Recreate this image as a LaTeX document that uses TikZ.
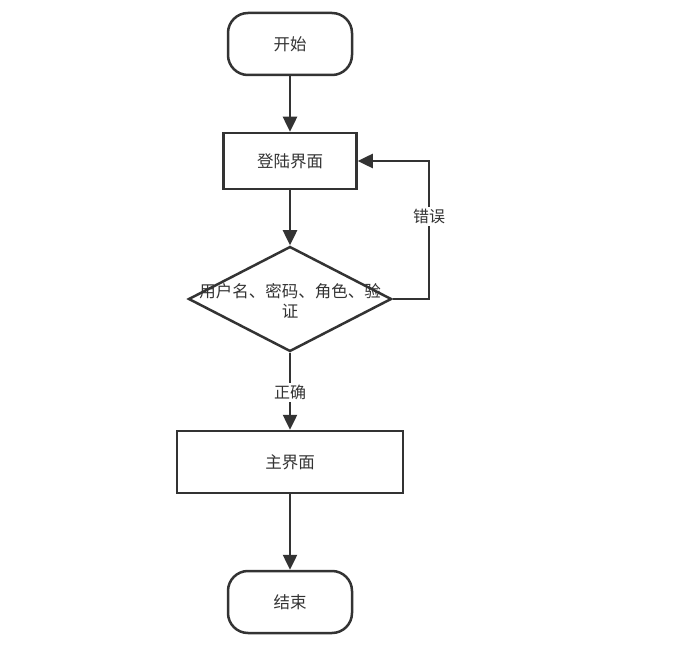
\documentclass[tikz,border=0pt]{standalone}
\usepackage{fontspec}
\setmainfont{Noto Sans CJK SC}
\usepackage{tikz}
\usetikzlibrary{arrows.meta,shapes,positioning}
\usepackage{xcolor}
\definecolor{fcgray}{RGB}{51,51,51}
\tikzstyle{terminal} = [rectangle, rounded corners=20pt, minimum width=124pt, minimum height=62pt, text centered, draw=fcgray, line width=2.5pt, text=fcgray]
\tikzstyle{process} = [rectangle, minimum width=133pt, minimum height=56pt, text centered, draw=fcgray, line width=2.5pt, text=fcgray]
\tikzstyle{decision} = [diamond, minimum width=203pt, minimum height=105pt, aspect=1.93, inner sep=0pt, text centered, draw=fcgray, line width=2.5pt, text=fcgray]
\tikzstyle{arrow} = [line width=2.5pt, -{Triangle[length=15pt,width=14pt]}, color=fcgray]
\tikzstyle{label} = [fill=white, text=fcgray, inner sep=2pt, font=\fontsize{16pt}{18pt}\selectfont]

\begin{document}
\begin{tikzpicture}[x=1pt, y=-1pt, font=\fontsize{16.5pt}{20pt}\selectfont]
\useasboundingbox (0,0) rectangle (691,655);
% Nodes
\node[terminal] (start) at (290,44) {开始};
\node[process] (login) at (290,161) {登陆界面};
\node[decision] (check) at (290,299) {};
\node[text=fcgray, align=center, text width=196pt] (checktext) at (290,301) {用户名、密码、角色、验\\证};
\node[process, minimum width=226pt, minimum height=62pt] (main) at (290,462) {主界面};
\node[terminal] (stop) at (290,602) {结束};
\coordinate (loop) at (429,161);

% Arrows
\draw[arrow] (start) -- (login);
\draw[arrow] (login) -- (check);
\draw[arrow] (check) -- node[label, pos=0.52] {正确} (main);
\draw[arrow] (main) -- (stop);
\draw[arrow] (check.east) -| node[label, pos=0.8] {错误} (loop) -- (login.east);
\end{tikzpicture}
\end{document}
